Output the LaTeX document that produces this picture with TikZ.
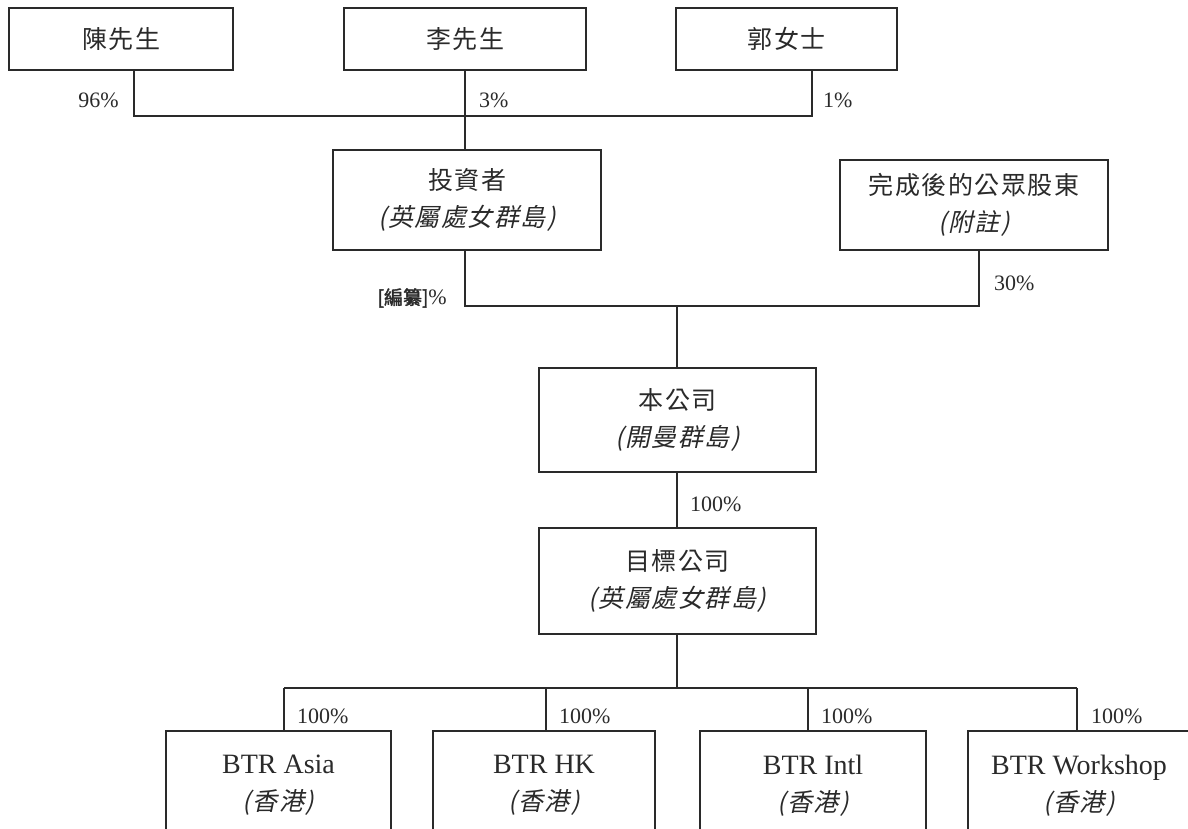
\documentclass[tikz,border=0pt]{standalone}
\usepackage{fontspec}
\setmainfont{Liberation Serif}
\newfontfamily\cjk[LetterSpace=6]{Noto Sans CJK TC}
\newfontfamily\cjkit[FakeSlant=0.22,LetterSpace=6]{Noto Sans CJK TC}
\newfontfamily\cjkbf[FakeBold=2]{Noto Sans CJK TC}
\definecolor{ink}{HTML}{2A2A2A}
\newcommand{\latbig}{\fontsize{28}{37}\selectfont}
\begin{document}
\begin{tikzpicture}[x=1pt,y=-1pt,
  box/.style={draw=ink,line width=1.1pt,inner sep=0pt,align=center,text=ink,
    font=\fontsize{25}{37}\selectfont},
  pct/.style={inner sep=0pt,text=ink,font=\fontsize{22}{26}\selectfont},
  conn/.style={draw=ink,line width=1.1pt}]
\useasboundingbox (0,0) rectangle (1188,828);
\clip (0,0) rectangle (1188,828);
% top owners
\node[box,minimum width=224,minimum height=62] (chen) at (121,39) {\cjk 陳先生};
\node[box,minimum width=242,minimum height=62] (li) at (465,39) {\cjk 李先生};
\node[box,minimum width=221,minimum height=62] (guo) at (786.5,39) {\cjk 郭女士};
% second level
\node[box,minimum width=268,minimum height=100] (inv) at (467,200) {\cjk 投資者\\\cjkit (英屬處女群島)};
\node[box,minimum width=268,minimum height=90] (pub) at (974,205) {\cjk 完成後的公眾股東\\\cjkit (附註)};
% company
\node[box,minimum width=277,minimum height=104] (co) at (677.5,420) {\cjk 本公司\\\cjkit (開曼群島)};
\node[box,minimum width=277,minimum height=106] (tgt) at (677.5,581) {\cjk 目標公司\\\cjkit (英屬處女群島)};
% subsidiaries
\node[box,minimum width=225,minimum height=109] (asia) at (278.5,785.5) {\latbig BTR Asia\\\cjkit (香港)};
\node[box,minimum width=222,minimum height=109] (hk) at (544,785.5) {\latbig BTR HK\\\cjkit (香港)};
\node[box,minimum width=226,minimum height=109] (intl) at (813,785.5) {\latbig BTR Intl\\\cjkit (香港)};
\node[box,minimum width=222,minimum height=109] (ws) at (1079,785.5) {\latbig BTR Workshop\\\cjkit (香港)};
% junctions
\coordinate (j1) at (465,116);
\coordinate (j2) at (677,306);
\coordinate (j3) at (677,688);
\coordinate (ja) at (284,688);
\coordinate (jh) at (546,688);
\coordinate (ji) at (808,688);
\coordinate (jw) at (1077,688);
% connectors
\draw[conn] ([xshift=13pt]chen.south) |- (j1) -| ([xshift=25.5pt]guo.south);
\draw[conn] (li.south) -- (li.south |- inv.north);
\draw[conn] (inv.south -| li.south) |- (j2) -| ([xshift=5pt]pub.south);
\draw[conn] (j2) -- (co.north -| j2);
\draw[conn] (co.south -| j2) -- (tgt.north -| j2);
\draw[conn] (tgt.south -| j2) -- (j3);
\draw[conn] (ja) -- (jw);
\draw[conn] (ja) -- (ja |- asia.north);
\draw[conn] (jh) -- (jh |- hk.north);
\draw[conn] (ji) -- (ji |- intl.north);
\draw[conn] (jw) -- (jw |- ws.north);
% labels
\node[pct,anchor=east] (l96) at (119,100) {96\%};
\node[pct,anchor=west] (l3) at (479,100) {3\%};
\node[pct,anchor=west] (l1) at (823,100) {1\%};
\node[pct,anchor=east] (lbz) at (447,298) {{\cjkbf\fontsize{19}{24}\selectfont [編纂]}\%};
\node[pct,anchor=west] (l30) at (994,283) {30\%};
\node[pct,anchor=west] (l100) at (690,504) {100\%};
\node[pct,anchor=west] (la) at (297,716) {100\%};
\node[pct,anchor=west] (lh) at (559,716) {100\%};
\node[pct,anchor=west] (li2) at (821,716) {100\%};
\node[pct,anchor=west] (lw) at (1091,716) {100\%};
\end{tikzpicture}
\end{document}
